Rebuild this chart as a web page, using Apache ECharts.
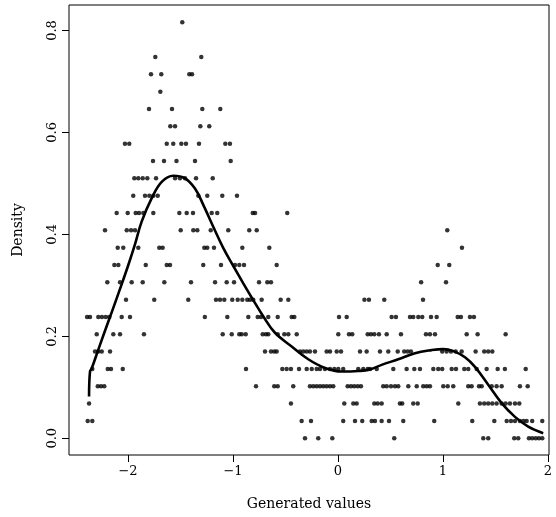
<!DOCTYPE html>
<html>
<head>
<meta charset="utf-8">
<script src="https://cdn.jsdelivr.net/npm/echarts@6/dist/echarts.min.js"></script>
<style>html,body{margin:0;padding:0;background:#fff}#chart{width:556px;height:517px}</style>
</head>
<body>
<div id="chart"></div>
<script>
// Tick labels
const xTicks = [-2, -1, 0, 1, 2];
const yTicks = [0, 0.2, 0.4, 0.6, 0.8];

// Observed density levels (y) and the x positions of the points on each level
const levels = [0, 0.034, 0.068, 0.102, 0.136, 0.170, 0.204, 0.238, 0.272, 0.306, 0.340, 0.374, 0.408,
  0.442, 0.476, 0.510, 0.544, 0.578, 0.612, 0.646, 0.680, 0.714, 0.748, 0.782, 0.816];
const pointsX = [
  [-0.314, -0.188, -0.054, 0.536, 1.384, 1.431, 1.679, 1.717, 1.819, 1.850, 1.883, 1.914, 1.946],
  [-2.384, -2.340, -0.346, -0.257, 0.050, 0.162, 0.231, 0.321, 0.352, 0.416, 0.486, 0.622, 0.917, 1.279, 1.489, 1.607, 1.648, 1.686, 1.733, 1.767, 1.797, 1.850, 1.946],
  [-2.371, -0.448, 0.060, 0.146, 0.178, 0.346, 0.378, 0.416, 0.590, 0.612, 0.717, 0.759, 1.146, 1.352, 1.393, 1.431, 1.470, 1.511, 1.559, 1.597, 1.638, 1.686, 1.727],
  [-2.288, -2.257, -2.226, -0.781, -0.607, -0.574, -0.426, -0.267, -0.235, -0.203, -0.171, -0.140, -0.108, -0.076, -0.045, 0.092, 0.124, 0.155, 0.188, 0.219, 0.431, 0.464, 0.505, 0.543, 0.574, 0.670, 0.750, 0.812, 0.845, 0.876, 1.003, 1.045, 1.098, 1.241, 1.273, 1.343, 1.369, 1.464, 1.511, 1.559, 1.733, 1.807],
  [-2.340, -2.193, -2.162, -2.050, -0.876, -0.530, -0.489, -0.448, -0.371, -0.298, -0.250, -0.203, -0.171, -0.124, -0.076, -0.035, 0.003, 0.050, 0.193, 0.241, 0.283, 0.305, 0.369, 0.527, 0.654, 0.727, 0.781, 0.908, 0.955, 0.993, 1.083, 1.124, 1.203, 1.241, 1.321, 1.416, 1.521, 1.590, 1.788],
  [-2.314, -2.283, -2.250, -2.171, -0.695, -0.638, -0.607, -0.584, -0.362, -0.330, -0.298, -0.267, -0.219, -0.108, -0.076, -0.012, 0.029, 0.210, 0.273, 0.400, 0.479, 0.569, 0.631, 0.664, 0.695, 0.993, 1.035, 1.076, 1.121, 1.178, 1.311, 1.393, 1.431, 1.470],
  [-2.298, -2.140, -2.076, -1.848, -1.098, -1.012, -0.940, -0.917, -0.879, -0.717, -0.686, -0.664, -0.574, -0.511, -0.473, -0.393, 0.003, 0.105, 0.136, 0.283, 0.314, 0.346, 0.390, 0.464, 0.600, 0.838, 0.876, 0.924, 1.226, 1.330, 1.597],
  [-2.390, -2.362, -2.283, -2.248, -2.212, -2.178, -2.060, -1.981, -1.268, -1.054, -0.854, -0.765, -0.733, -0.664, -0.574, -0.441, -0.416, 0.010, 0.083, 0.511, 0.552, 0.686, 0.717, 0.765, 0.803, 0.886, 0.940, 1.140, 1.171, 1.257, 1.295],
  [-2.019, -1.750, -1.426, -1.162, -1.124, -1.083, -1.007, -0.955, -0.911, -0.864, -0.838, -0.807, -0.727, -0.546, -0.473, 0.252, 0.295, 0.441, 0.810],
  [-2.197, -2.076, -1.965, -1.860, -1.654, -1.400, -1.171, -1.060, -0.990, -0.752, -0.673, -0.638, 0.792, 1.029],
  [-2.130, -2.092, -1.831, -1.631, -1.600, -1.283, -1.114, -0.981, -0.940, -0.895, -0.584, 0.950, 1.060],
  [-2.098, -2.045, -1.902, -1.702, -1.670, -1.273, -1.245, -1.181, -0.911, -0.654, 1.181],
  [-2.219, -2.012, -1.971, -1.933, -1.498, -1.378, -1.340, -1.212, -1.045, -0.845, -0.774, 1.041],
  [-2.108, -2.003, -1.927, -1.895, -1.854, -1.759, -1.511, -1.441, -1.381, -1.203, -1.150, -0.812, -0.790, -0.483],
  [-1.950, -1.838, -1.797, -1.759, -1.717, -1.330, -1.245, -1.102, -0.962],
  [-1.940, -1.902, -1.860, -1.816, -1.733, -1.552, -1.505, -1.457, -1.352, -1.193],
  [-1.762, -1.657, -1.538, -1.362, -1.022],
  [-2.029, -1.988, -1.631, -1.569, -1.492, -1.448, -1.324, -1.073, -1.029],
  [-1.597, -1.552, -1.311, -1.226],
  [-1.800, -1.581, -1.292, -1.121],
  [-1.692],
  [-1.781, -1.683, -1.416, -1.390],
  [-1.740, -1.302],
  [],
  [-1.483]
];

// Smooth density curve
const curveX = [-2.371, -2.362, -2.346, -2.286, -2.219, -2.152, -2.076, -1.997, -1.933, -1.870, -1.774, -1.679, -1.569,
  -1.457, -1.362, -1.283, -1.188, -1.092, -0.997, -0.902, -0.807, -0.711, -0.600, -0.441, -0.283, -0.124, 0.035, 0.193,
  0.305, 0.416, 0.574, 0.733, 0.892, 1.003, 1.100, 1.210, 1.305, 1.431, 1.559, 1.686, 1.812, 1.955];
const curveY = [0.082, 0.131, 0.137, 0.172, 0.211, 0.249, 0.293, 0.340, 0.381, 0.425, 0.471, 0.503, 0.515,
  0.510, 0.490, 0.458, 0.415, 0.373, 0.338, 0.304, 0.271, 0.239, 0.207, 0.180, 0.155, 0.138, 0.131, 0.132,
  0.135, 0.144, 0.155, 0.167, 0.173, 0.175, 0.171, 0.159, 0.140, 0.105, 0.069, 0.042, 0.023, 0.010];

const scatterData = [];
levels.forEach((lv, i) => pointsX[i].forEach(x => scatterData.push([x, lv])));
const curveData = curveX.map((x, i) => [x, curveY[i]]);

const FONT = 'DejaVu Serif';
const chart = echarts.init(document.getElementById('chart'), null, {renderer: 'canvas'});
chart.setOption({
  animation: false,
  grid: {left: 69, right: 7, top: 5, bottom: 62, show: true, borderColor: '#000', borderWidth: 1, backgroundColor: 'transparent'},
  xAxis: {
    type: 'value', min: -2.562, max: 2.010,
    axisLine: {show: false, onZero: false}, splitLine: {show: false},
    axisTick: {show: true, length: 7, lineStyle: {color: '#000'}, customValues: xTicks},
    axisLabel: {customValues: xTicks, color: '#000', fontFamily: FONT, fontSize: 13, margin: 10,
      formatter: v => (v < 0 ? '\u2212' + Math.abs(v) : String(v))},
    name: 'Generated values', nameLocation: 'middle', nameGap: 42,
    nameTextStyle: {color: '#000', fontFamily: FONT, fontSize: 14}
  },
  yAxis: {
    type: 'value', min: -0.0328, max: 0.850,
    axisLine: {show: false, onZero: false}, splitLine: {show: false},
    axisTick: {show: true, length: 7, lineStyle: {color: '#000'}, customValues: yTicks},
    axisLabel: {customValues: yTicks, color: '#000', fontFamily: FONT, fontSize: 13, margin: 10, rotate: 90,
      formatter: v => v.toFixed(1)},
    name: 'Density', nameLocation: 'middle', nameGap: 44, nameRotate: 90,
    nameTextStyle: {color: '#000', fontFamily: FONT, fontSize: 14}
  },
  series: [
    {type: 'scatter', data: scatterData, symbol: 'circle', symbolSize: 4.5, itemStyle: {color: '#000'}, z: 2},
    {type: 'line', data: curveData, smooth: 0.4, showSymbol: false, lineStyle: {color: '#000', width: 2.6}, z: 3}
  ]
});
</script>
</body>
</html>
